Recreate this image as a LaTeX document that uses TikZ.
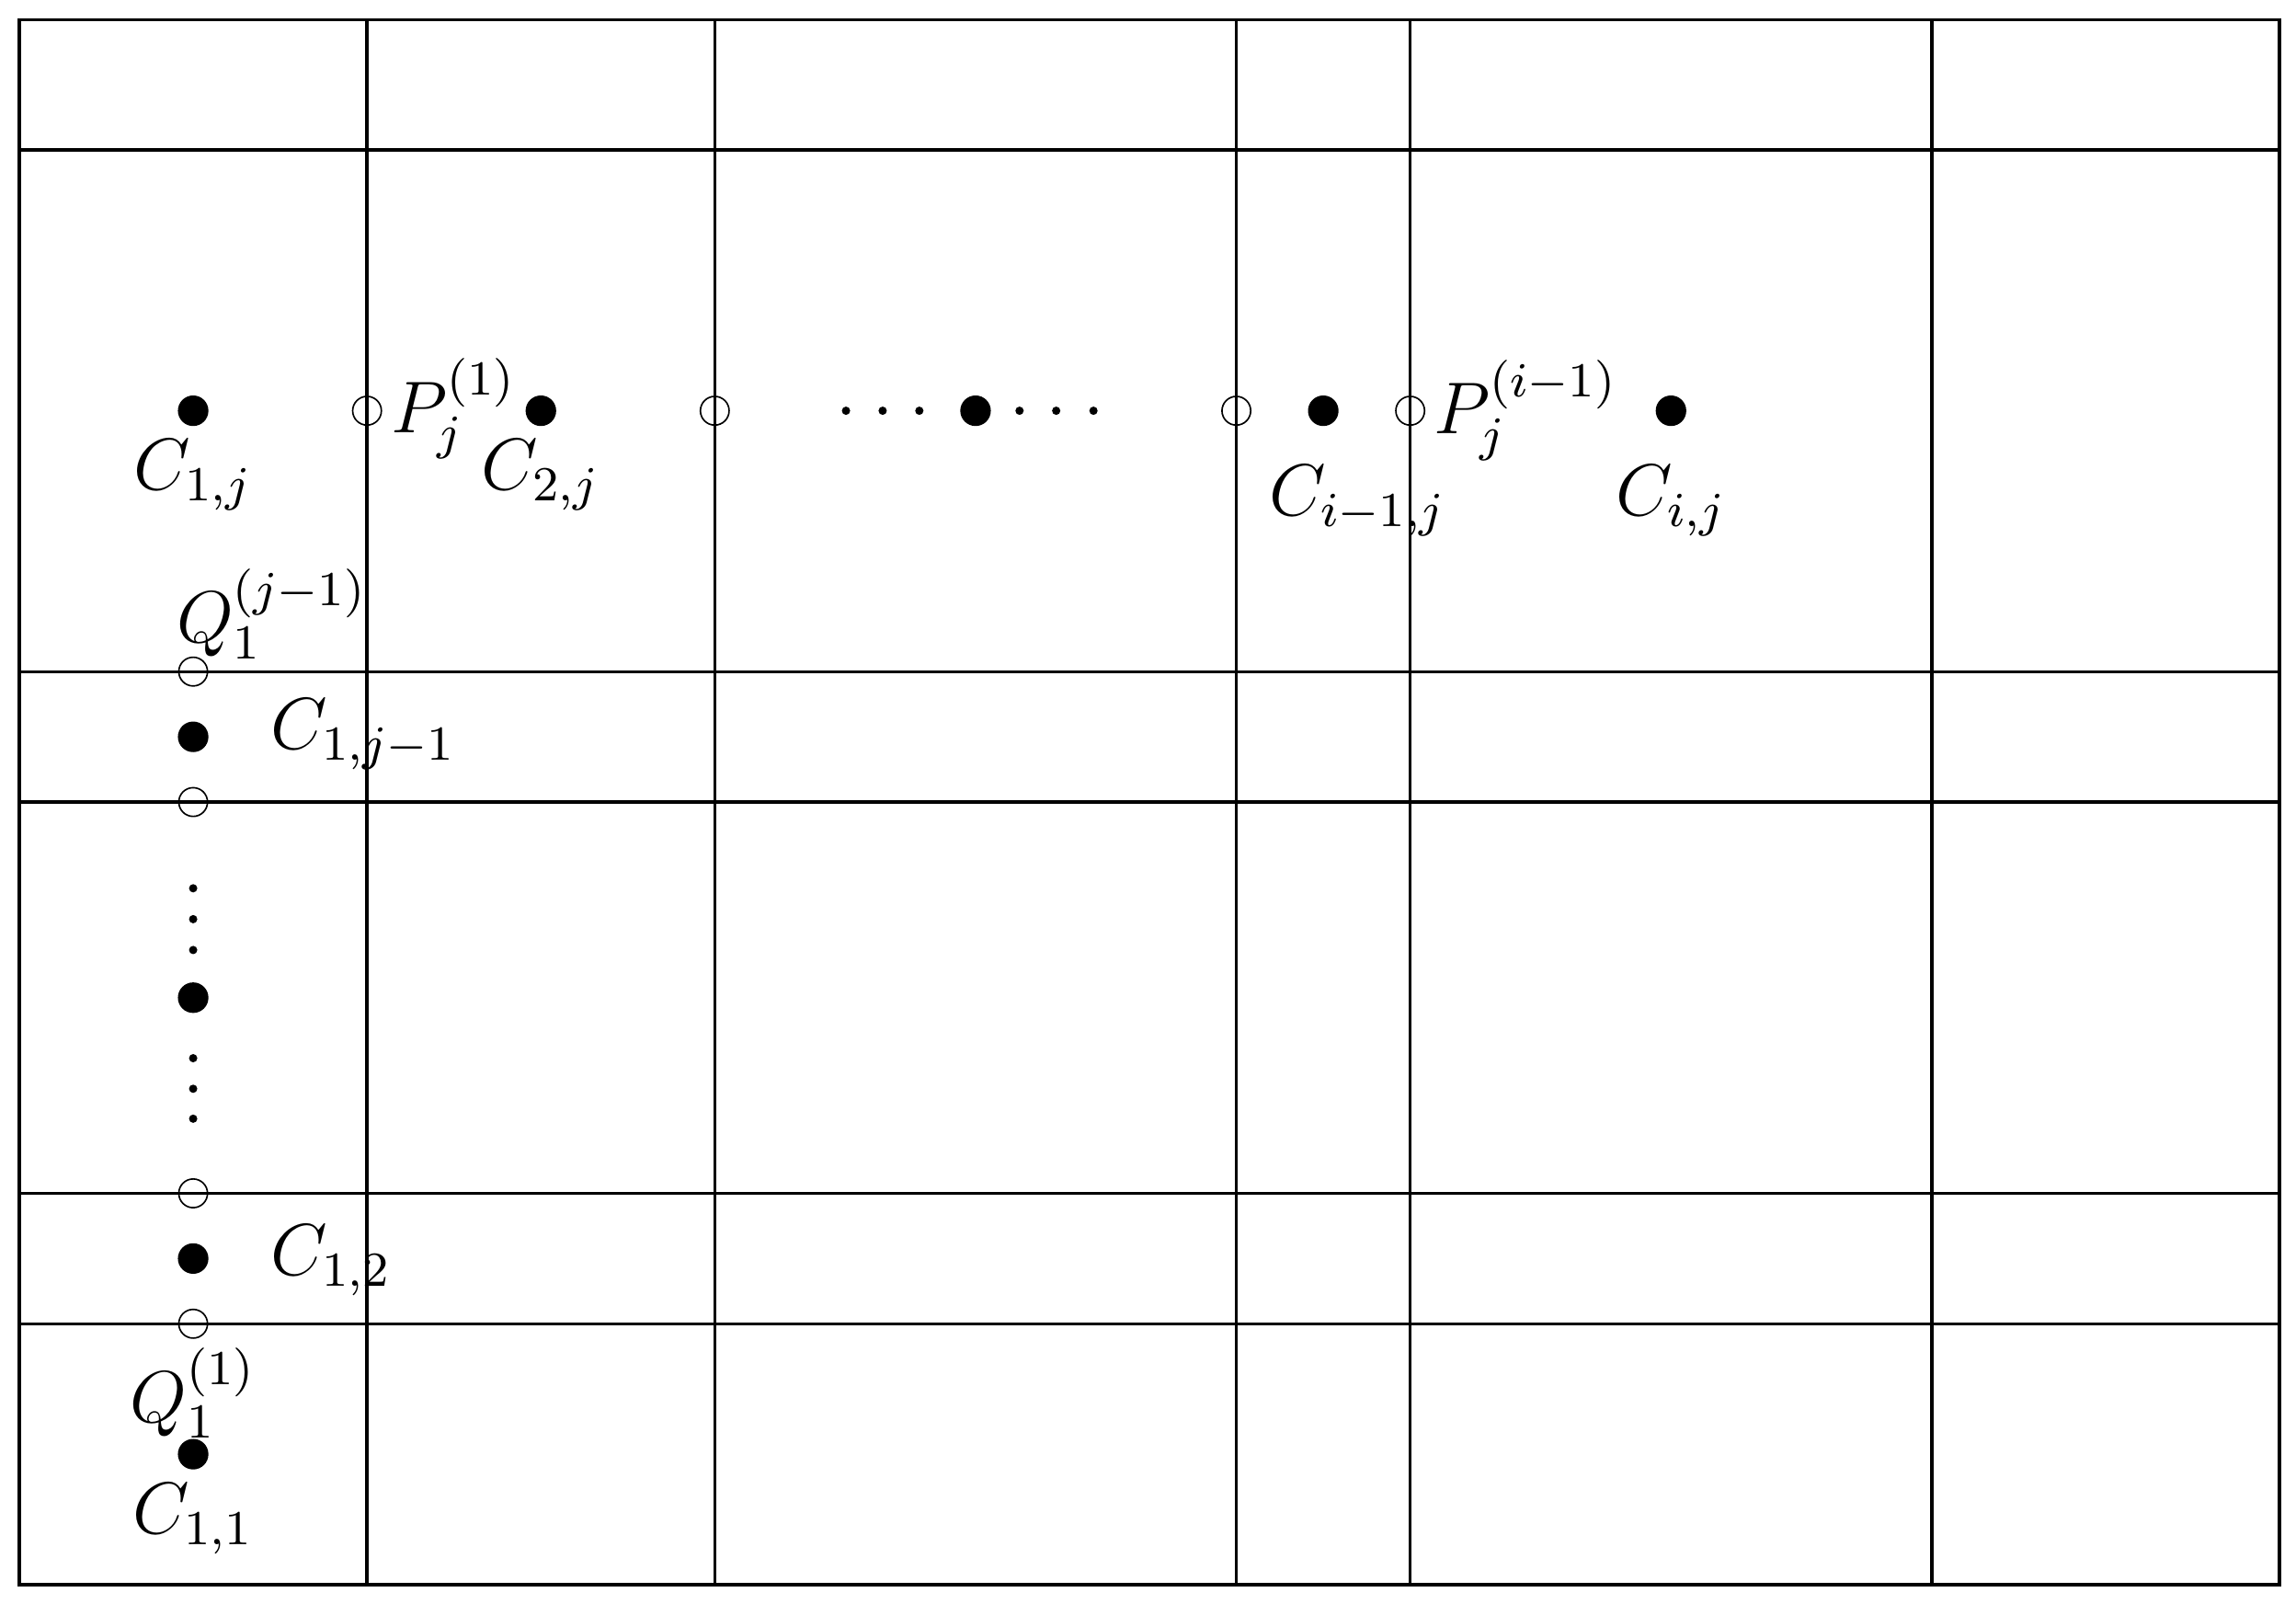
\documentclass[tikz,border=0pt]{standalone}
\begin{document}
\begin{tikzpicture}[x=1cm,y=0.75cm,
  gridline/.style={line width=0.5pt},
  fdot/.style={circle,fill=black,inner sep=0pt,minimum size=5pt},
  odot/.style={circle,draw=black,line width=0.25pt,inner sep=0pt,minimum size=4.7pt},
  lab/.style={font=\large,inner sep=0pt},
  sdot/.style={fill=black}]
\useasboundingbox (-0.111cm,-0.111cm) rectangle (13.095cm,9.112cm);
% grid
\draw[gridline] (0,0) rectangle (13,12);
\foreach \x in {2,4,7,8,11} \draw[gridline] (\x,0) -- (\x,12);
\foreach \y in {2,3,6,7,11} \draw[gridline] (0,\y) -- (13,\y);
% filled points
\node[fdot] (c1j) at (1,9) {};
\node[fdot] (c2j) at (3,9) {};
\node[fdot] (cmid) at (5.5,9) {};
\node[fdot] (cim1j) at (7.5,9) {};
\node[fdot] (cij) at (9.5,9) {};
\node[fdot] (c1jm1) at (1,6.5) {};
\node[fdot] (cmidv) at (1,4.5) {};
\node[fdot] (c12) at (1,2.5) {};
\node[fdot] (c11) at (1,1) {};
% open points
\node[odot] (p1) at (2,9) {};
\node[odot] (p2) at (4,9) {};
\node[odot] (p3) at (7,9) {};
\node[odot] (pim1) at (8,9) {};
\node[odot] (qjm1) at (1,7) {};
\node[odot] (q2) at (1,6) {};
\node[odot] (q3) at (1,3) {};
\node[odot] (q1) at (1,2) {};
% dots
\foreach \d in {-21.2,-15.2,-9.2,7.2,13.2,19.3}
  \fill[sdot] ([xshift=\d pt]cmid.center) circle (0.68pt);
\foreach \d in {17.9,12.85,7.8,-9.9,-14.9,-19.8}
  \fill[sdot] ([yshift=\d pt]cmidv.center) circle (0.68pt);
% labels
\node[lab,anchor=base] (lc1j) at ([yshift=-12.9pt]c1j.center) {$C_{1,j}$};
\node[lab,anchor=base] (lc2j) at ([yshift=-12.9pt]c2j.center) {$C_{2,j}$};
\node[lab,anchor=base] (lcim1j) at ([xshift=5.7pt,yshift=-17.2pt]cim1j.center) {$C_{i-1,j}$};
\node[lab,anchor=base] (lcij) at ([yshift=-17.2pt]cij.center) {$C_{i,j}$};
\node[lab,anchor=base west] (lp1) at ([xshift=3.7pt,yshift=-3.6pt]p1.center) {$P_j^{(1)}$};
\node[lab,anchor=base west] (lpim1) at ([xshift=3.7pt,yshift=-3.8pt]pim1.center) {$P_j^{(i-1)}$};
\node[lab,anchor=base west] (lqjm1) at ([xshift=-2.9pt,yshift=4.7pt]qjm1.center) {$Q_1^{(j-1)}$};
\node[lab,anchor=base west] (lc1jm1) at ([xshift=12.5pt,yshift=-2pt]c1jm1.center) {$C_{1,j-1}$};
\node[lab,anchor=base west] (lc12) at ([xshift=12.5pt,yshift=-2.7pt]c12.center) {$C_{1,2}$};
\node[lab,anchor=base] (lq1) at ([yshift=-16.1pt]q1.center) {$Q_1^{(1)}$};
\node[lab,anchor=base] (lc11) at ([yshift=-13pt]c11.center) {$C_{1,1}$};
\end{tikzpicture}
\end{document}
